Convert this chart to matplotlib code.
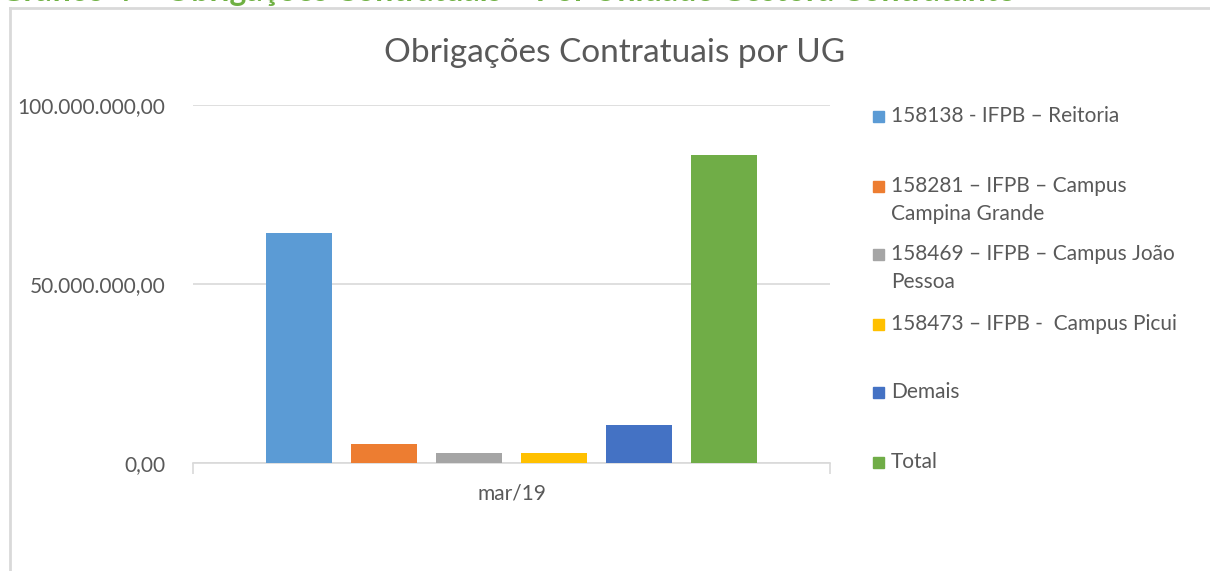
import matplotlib
matplotlib.use("Agg")
import matplotlib.pyplot as plt
from matplotlib.lines import Line2D
from matplotlib.patches import Rectangle

# ---- data ----
category = "mar/19"
series_labels = [
    "158138 - IFPB – Reitoria",
    "158281 – IFPB – Campus\nCampina Grande",
    "158469 – IFPB – Campus João\nPessoa",
    "158473 – IFPB -  Campus Picui",
    "Demais",
    "Total",
]
series_values = [64.2e6, 5.3e6, 2.8e6, 2.75e6, 10.5e6, 86.0e6]
series_colors = ["#5B9BD5", "#ED7D31", "#A5A5A5", "#FFC000", "#4472C4", "#70AD47"]
yticks = [0, 50e6, 100e6]
ytick_labels = ["0,00", "50.000.000,00", "100.000.000,00"]
title = "Obrigações Contratuais por UG"
caption = "Gráfico 4 – Obrigações Contratuais – Por Unidade Gestora Contratante"

FONT = "Lato"
TXT = "#595959"
GRID = "#D9D9D9"

W, H = 1210, 571
fig = plt.figure(figsize=(W / 100, H / 100), dpi=100)
fig.patch.set_facecolor("white")

def fx(px):
    return px / W

def fy(py):
    return 1 - py / H

ax = fig.add_axes([fx(193), fy(463), fx(830) - fx(193), fy(105) - fy(463)])

n = len(series_values)
step = 0.1334
width = 0.1036
for i, (v, c) in enumerate(zip(series_values, series_colors)):
    ax.bar((i - (n - 1) / 2) * step, v, width=width, color=c, zorder=3)

ax.set_xlim(-0.5, 0.5)
ax.set_ylim(0, 100e6)
ax.set_yticks(yticks)
ax.set_yticklabels(ytick_labels, fontsize=15, color=TXT, family=FONT)
ax.tick_params(axis="y", length=0, pad=20)
ax.yaxis.grid(True, color=GRID, linewidth=1.2, zorder=0)

ax.set_xticks([-0.5, 0.5])
ax.set_xticklabels(["", ""])
ax.tick_params(axis="x", which="major", length=8, color=GRID, width=1.2)
ax.set_xticks([0], minor=True)
ax.set_xticklabels([category], minor=True, fontsize=15, color=TXT, family=FONT)
ax.tick_params(axis="x", which="minor", length=0, pad=15)

for s in ["left", "right", "top"]:
    ax.spines[s].set_visible(False)
ax.spines["bottom"].set_color(GRID)
ax.spines["bottom"].set_linewidth(1.2)

# title
fig.text(fx(614.5), fy(53), title, ha="center", va="center", fontsize=24,
         color=TXT, family=FONT)

# legend (manual, Excel-like placement)
legend_y = [116, 186, 254, 324, 392, 462]
for lab, c, y in zip(series_labels, series_colors, legend_y):
    fig.patches.append(Rectangle((fx(873), fy(y + 5.5)), fx(11), 11 / H,
                                 transform=fig.transFigure, color=c))
    for k, ln in enumerate(lab.split("\n")):
        fig.text(fx(891), fy(y + k * 28), ln, ha="left", va="center",
                 fontsize=15, color=TXT, family=FONT)

# outer frame
fig.add_artist(Line2D([fx(10), 1], [fy(8), fy(8)], transform=fig.transFigure,
                      color=GRID, linewidth=2))
fig.add_artist(Line2D([fx(10), fx(10)], [fy(8), 0], transform=fig.transFigure,
                      color=GRID, linewidth=2))

# caption of the page, cut off at the very top as in the source
fig.text(fx(0), fy(1.2), caption, ha="left", va="baseline", fontsize=23,
         color="#6FB043", family=FONT, fontweight="bold")

fig.savefig("out.png", dpi=100)
